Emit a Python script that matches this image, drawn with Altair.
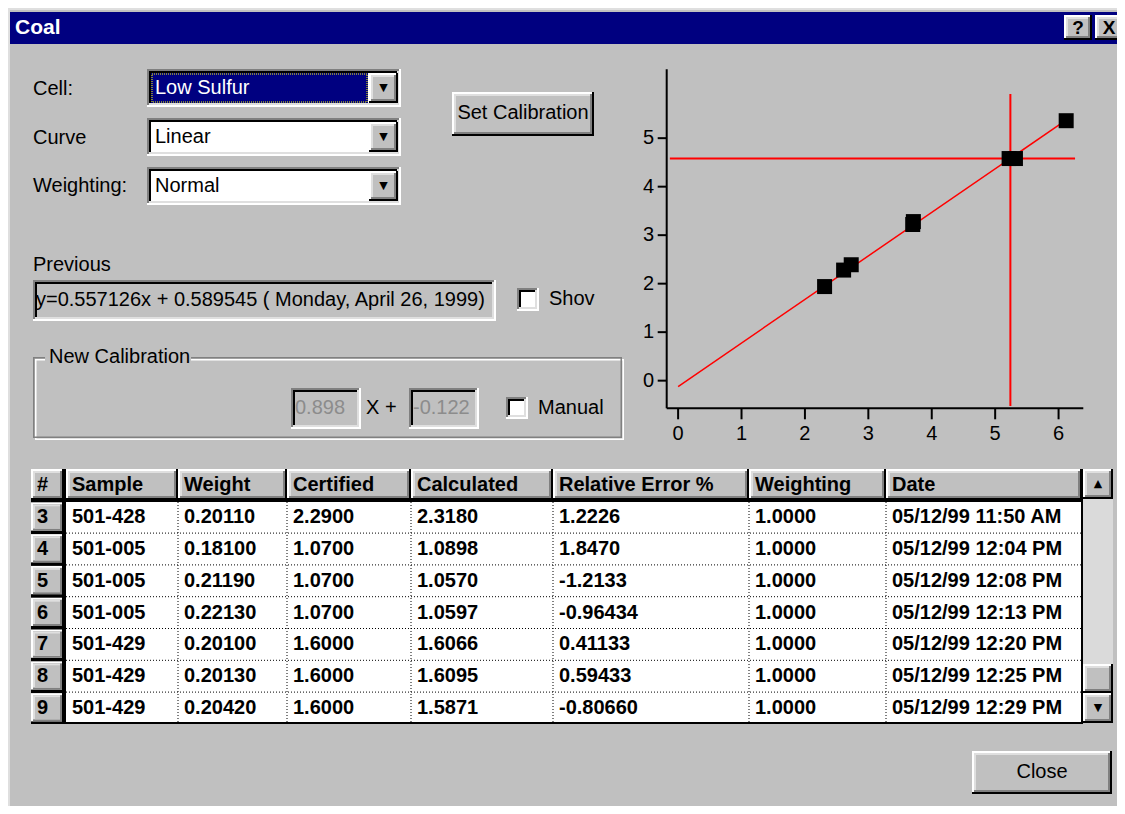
import altair as alt
import pandas as pd

# ---------------- chart data ----------------
cal_x = [2.31, 2.61, 2.73, 3.70, 3.71, 5.22, 5.32, 6.12]
cal_y = [1.94, 2.28, 2.39, 3.22, 3.28, 4.58, 4.58, 5.36]
fit_x = [0.0, 6.10]
fit_y = [-0.122, 5.356]
cross_x = [5.24]
cross_y = [4.58]
cross_v_span = [-0.52, 5.91]
cross_h_span = [-0.13, 6.26]
x_ticks = [0, 1, 2, 3, 4, 5, 6]
y_ticks = [0, 1, 2, 3, 4, 5]
x_domain = [-0.18, 6.39]
y_domain = [-0.57, 6.42]

# ---------------- table data ----------------
headers = ["#", "Sample", "Weight", "Certified", "Calculated",
           "Relative Error %", "Weighting", "Date"]
row_ids = [3, 4, 5, 6, 7, 8, 9]
samples = ["501-428", "501-005", "501-005", "501-005", "501-429", "501-429", "501-429"]
weights = ["0.20110", "0.18100", "0.21190", "0.22130", "0.20100", "0.20130", "0.20420"]
certified = ["2.2900", "1.0700", "1.0700", "1.0700", "1.6000", "1.6000", "1.6000"]
calculated = ["2.3180", "1.0898", "1.0570", "1.0597", "1.6066", "1.6095", "1.5871"]
rel_error = ["1.2226", "1.8470", "-1.2133", "-0.96434", "0.41133", "0.59433", "-0.80660"]
weighting = ["1.0000", "1.0000", "1.0000", "1.0000", "1.0000", "1.0000", "1.0000"]
dates = ["05/12/99 11:50 AM", "05/12/99 12:04 PM", "05/12/99 12:08 PM",
         "05/12/99 12:13 PM", "05/12/99 12:20 PM", "05/12/99 12:25 PM",
         "05/12/99 12:29 PM"]

# ---------------- dialog texts ----------------
title_text = "Coal"
cell_value = "Low Sulfur"
curve_value = "Linear"
weighting_value = "Normal"
previous_text = "y=0.557126x + 0.589545 ( Monday, April 26, 1999)"
slope_text = "0.898"
intercept_text = "-0.122"

# ---------------- layout / style ----------------
OX, OY = 8, 8
W, H = 1109, 798
GRAY, LIGHT, WHITE = "#c0c0c0", "#dfdfdf", "#ffffff"
DARK, BLACK, NAVY, TRACK = "#808080", "#000000", "#000080", "#dadada"
FONT = "Liberation Sans"
COL_EDGES = [31, 66, 178, 287, 411, 553, 749, 886, 1082]
ROW_C0, ROW_H = 485.4, 31.8   # centre of header row (row value 2), row pitch


def px(v):
    return v - OX


def py(v):
    return v - OY


rects = []


def rect(x1, y1, x2, y2, c):
    rects.append({"x": px(x1), "x2": px(x2), "y": py(y1), "y2": py(y2), "c": c})


def raised(x1, y1, x2, y2, face=GRAY, w=2):
    rect(x1, y1, x2, y2, BLACK)
    rect(x1, y1, x2 - w, y2 - w, WHITE)
    rect(x1 + w, y1 + w, x2 - w, y2 - w, DARK)
    rect(x1 + w, y1 + w, x2 - 2 * w, y2 - 2 * w, LIGHT)
    rect(x1 + 2 * w, y1 + 2 * w, x2 - 2 * w, y2 - 2 * w, face)


def sunken(x1, y1, x2, y2, face=WHITE, w=2):
    rect(x1, y1, x2, y2, WHITE)
    rect(x1, y1, x2 - w, y2 - w, DARK)
    rect(x1 + w, y1 + w, x2 - w, y2 - w, LIGHT)
    rect(x1 + w, y1 + w, x2 - 2 * w, y2 - 2 * w, BLACK)
    rect(x1 + 2 * w, y1 + 2 * w, x2 - 2 * w, y2 - 2 * w, face)


def outline(x1, y1, x2, y2, w, c):
    rect(x1, y1, x2, y1 + w, c)
    rect(x1, y2 - w, x2, y2, c)
    rect(x1, y1, x1 + w, y2, c)
    rect(x2 - w, y1, x2, y2, c)


texts = []


def text(x, y, t, align="left", bold=False, size=20, color=BLACK, font=FONT):
    texts.append({"x": px(x), "y": py(y), "t": t, "align": align, "bold": bold,
                  "s": size, "c": color, "f": font})


# dialog body + title bar
rect(8, 8, 1117, 806, LIGHT)
rect(10, 10, 1117, 806, GRAY)
rect(10, 12, 1117, 44, NAVY)
text(15, 28, title_text, bold=True, size=21, color=WHITE)
raised(1064, 15, 1092, 40)
text(1078, 28, "?", align="center", bold=True, size=19)
raised(1095, 15, 1123, 40)
text(1109, 28, "X", align="center", bold=True, size=19)

# combo boxes
labels = [("Cell:", 89), ("Curve", 138), ("Weighting:", 186)]
for lab, yc in labels:
    text(33, yc, lab)
combo_tops = [69, 118, 167]
combo_vals = [cell_value, curve_value, weighting_value]
for i, (top, val) in enumerate(zip(combo_tops, combo_vals)):
    sunken(147, top, 401, top + 38)
    if i == 0:
        rect(151, top + 4, 368, top + 34, NAVY)
        text(155, top + 19, val, color=WHITE)
    else:
        text(155, top + 19, val)
    raised(369, top + 4, 398, top + 34)
    text(383.5, top + 19, "\u25BC", align="center", size=11, font="DejaVu Sans")

# Set Calibration button
raised(452, 92, 594, 136)
text(523, 113, "Set Calibration", align="center")

# Previous
text(33, 265, "Previous")
sunken(33, 280, 496, 321, face=GRAY)
text(36, 300, previous_text)
sunken(517, 288, 539, 311)
text(549, 299, "Shov")

# New Calibration group box
outline(35, 359, 624, 440, 1.5, WHITE)
outline(33, 357, 622, 438, 1.5, DARK)
rect(45, 347, 191, 369, GRAY)
text(49, 357, "New Calibration")
sunken(291, 388, 361, 429, face=GRAY)
text(295, 408, slope_text, color="#8c8c8c")
text(366, 408, "X +")
sunken(409, 388, 479, 429, face=GRAY)
text(413, 408, intercept_text, color="#8c8c8c")
sunken(506, 397, 528, 419)
text(538, 408, "Manual")

# table frame
rect(31, 469, 1083, 724, BLACK)
rect(66, 502, 1081, 722, WHITE)
for i in range(len(headers)):
    x2 = COL_EDGES[i + 1] - (2 if i == 0 else 0)
    raised(COL_EDGES[i], 469, x2, 500)
for r in row_ids:
    c = ROW_C0 + (r - 2) * ROW_H
    raised(31, c - ROW_H / 2 + 1, 64, c + ROW_H / 2 - 0.5)

# scrollbar
raised(1083, 469, 1113, 499)
text(1098, 484, "\u25B2", align="center", size=11, font="DejaVu Sans")
rect(1083, 499, 1113, 664, TRACK)
raised(1083, 664, 1113, 693)
raised(1083, 693, 1113, 723)
text(1098, 708, "\u25BC", align="center", size=11, font="DejaVu Sans")

# Close button
raised(972, 751, 1112, 794)
text(1042, 772, "Close", align="center")

# ---------------- build layers ----------------
NOX = alt.X("x:Q", scale=None, axis=None)
NOY = alt.Y("y:Q", scale=None, axis=None)

layers = []
layers.append(
    alt.Chart(pd.DataFrame(rects)).mark_rect(strokeWidth=0).encode(
        x=NOX, x2="x2:Q", y=NOY, y2="y2:Q", fill=alt.Fill("c:N", scale=None))
)

# focus rectangle on the selected combo entry
layers.append(
    alt.Chart(pd.DataFrame({"k": [0]})).mark_rect(
        fillOpacity=0, stroke="#ffff00", strokeDash=[1, 1], strokeWidth=1).encode(
        x=alt.value(px(152)), x2=alt.value(px(367)),
        y=alt.value(py(74)), y2=alt.value(py(102)))
)

tdf = pd.DataFrame(texts)
for (al, bo, fo), g in tdf.groupby(["align", "bold", "f"]):
    layers.append(
        alt.Chart(g.reset_index(drop=True)).mark_text(
            align=al, baseline="middle", font=fo,
            fontWeight="bold" if bo else "normal").encode(
            x=NOX, y=NOY, text="t:N",
            color=alt.Color("c:N", scale=None),
            size=alt.Size("s:Q", scale=None))
    )

# ---------------- table content ----------------
RS = alt.Scale(domain=[2, 9], range=[py(ROW_C0), py(ROW_C0 + 7 * ROW_H)],
               nice=False, zero=False)

sep_df = pd.DataFrame({"b": [r + 0.5 for r in row_ids[:-1]]})
layers.append(
    alt.Chart(sep_df).mark_rule(color=BLACK, strokeDash=[1, 2], strokeWidth=1).encode(
        y=alt.Y("b:Q", scale=RS, axis=None),
        x=alt.value(px(66)), x2=alt.value(px(1081)))
)
vsep_df = pd.DataFrame({"e": [px(e) for e in COL_EDGES[2:-1]]})
layers.append(
    alt.Chart(vsep_df).mark_rule(color=BLACK, strokeDash=[1, 2], strokeWidth=1).encode(
        x=alt.X("e:Q", scale=None, axis=None),
        y=alt.value(py(502)), y2=alt.value(py(722)))
)

columns = [[str(r) for r in row_ids], samples, weights, certified, calculated,
           rel_error, weighting, dates]
cells = []
for ci, (h, vals) in enumerate(zip(headers, columns)):
    xp = px(COL_EDGES[ci] + 6)
    cells.append({"row": 2, "xp": xp, "v": h})
    for r, v in zip(row_ids, vals):
        cells.append({"row": r, "xp": xp, "v": v})
layers.append(
    alt.Chart(pd.DataFrame(cells)).mark_text(
        align="left", baseline="middle", font=FONT, fontWeight="bold",
        fontSize=20, color=BLACK).encode(
        x=alt.X("xp:Q", scale=None, axis=None),
        y=alt.Y("row:Q", scale=RS, axis=None),
        text="v:N")
)

# ---------------- calibration plot ----------------
XS = alt.Scale(domain=x_domain, range=[px(666.7), px(1083.3)], nice=False, zero=False)
YS = alt.Scale(domain=y_domain, range=[py(408.3), py(69.3)], nice=False, zero=False)


def sx(f):
    return alt.X(f, type="quantitative", scale=XS, axis=None)


def sy(f):
    return alt.Y(f, type="quantitative", scale=YS, axis=None)


AX_Y = py(408.3)
AX_X = px(666.7)

# axis lines
layers.append(
    alt.Chart(pd.DataFrame({"a": [x_domain[0]], "b": [x_domain[1]], "c": [y_domain[0]]}))
    .mark_rule(color=BLACK, strokeWidth=2).encode(x=sx("a"), x2="b:Q", y=sy("c"))
)
layers.append(
    alt.Chart(pd.DataFrame({"a": [x_domain[0]], "b": [y_domain[0]], "c": [y_domain[1]]}))
    .mark_rule(color=BLACK, strokeWidth=2).encode(x=sx("a"), y=sy("b"), y2="c:Q")
)
xt = pd.DataFrame({"t": x_ticks, "lab": [str(v) for v in x_ticks]})
yt = pd.DataFrame({"t": y_ticks, "lab": [str(v) for v in y_ticks]})
layers.append(
    alt.Chart(xt).mark_rule(color=BLACK, strokeWidth=2).encode(
        x=sx("t"), y=alt.value(AX_Y), y2=alt.value(AX_Y + 11))
)
layers.append(
    alt.Chart(xt).mark_text(font=FONT, fontSize=20, align="center", baseline="middle",
                            color=BLACK).encode(
        x=sx("t"), y=alt.value(py(434)), text="lab:N")
)
layers.append(
    alt.Chart(yt).mark_rule(color=BLACK, strokeWidth=2).encode(
        y=sy("t"), x=alt.value(AX_X - 9), x2=alt.value(AX_X))
)
layers.append(
    alt.Chart(yt).mark_text(font=FONT, fontSize=20, align="right", baseline="middle",
                            color=BLACK).encode(
        y=sy("t"), x=alt.value(px(654)), text="lab:N")
)

# fitted calibration line
layers.append(
    alt.Chart(pd.DataFrame({"x": fit_x, "y": fit_y})).mark_line(
        color="#ff0000", strokeWidth=1.5).encode(x=sx("x"), y=sy("y"))
)
# crosshair
layers.append(
    alt.Chart(pd.DataFrame({"x": cross_x, "y1": [cross_v_span[0]], "y2": [cross_v_span[1]]}))
    .mark_rule(color="#ff0000", strokeWidth=2).encode(x=sx("x"), y=sy("y1"), y2="y2:Q")
)
layers.append(
    alt.Chart(pd.DataFrame({"y": cross_y, "x1": [cross_h_span[0]], "x2": [cross_h_span[1]]}))
    .mark_rule(color="#ff0000", strokeWidth=2).encode(y=sy("y"), x=sx("x1"), x2="x2:Q")
)
# standards
layers.append(
    alt.Chart(pd.DataFrame({"x": cal_x, "y": cal_y})).mark_square(
        size=225, color=BLACK, opacity=1, filled=True).encode(x=sx("x"), y=sy("y"))
)

chart = (
    alt.layer(*layers)
    .resolve_scale(x="independent", y="independent")
    .properties(width=W, height=H, padding=0,
                autosize=alt.AutoSizeParams(type="none"))
    .configure_view(stroke=None)
    .configure(background="white")
)

chart.save("out.html", embed_options={"renderer": "svg", "actions": False})
